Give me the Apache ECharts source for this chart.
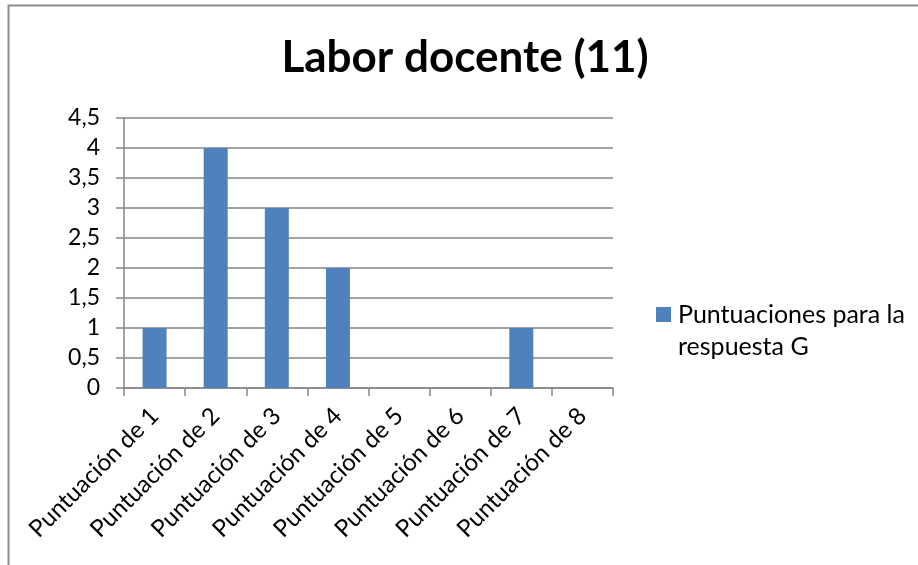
<!DOCTYPE html>
<html>
<head>
<meta charset="utf-8">
<script src="https://cdn.jsdelivr.net/npm/echarts@6/dist/echarts.min.js"></script>
<style>
html,body{margin:0;padding:0;background:#fff;}
#chart{width:918px;height:565px;}
</style>
</head>
<body>
<div id="chart"></div>
<script>
const titleText = 'Labor docente (11)';
const categories = ['Puntuación de 1','Puntuación de 2','Puntuación de 3','Puntuación de 4','Puntuación de 5','Puntuación de 6','Puntuación de 7','Puntuación de 8'];
const seriesName = 'Puntuaciones para la respuesta G';
const legendLine1 = 'Puntuaciones para la';
const legendLine2 = 'respuesta G';
const values = [1, 4, 3, 2, 0, 0, 1, 0];

const chart = echarts.init(document.getElementById('chart'));
const font = 'Lato, "Open Sans", sans-serif';
chart.setOption({
  animation: false,
  backgroundColor: '#fff',
  title: {
    text: titleText,
    left: 460, top: 31, textAlign: 'center',
    textStyle: { fontFamily: font, fontWeight: 'bold', fontSize: 44, color: '#000' }
  },
  graphic: [{
    type: 'rect', z: -1,
    shape: { x: 8.5, y: 5.5, width: 1000, height: 700 },
    style: { fill: 'none', stroke: '#8c8c8c', lineWidth: 2 }
  }, {
    type: 'text', left: 678, top: 334,
    style: { text: legendLine2, font: '25px Lato, "Open Sans", sans-serif', fill: '#000' }
  }],
  legend: {
    left: 656, top: 302, padding: 0,
    orient: 'vertical',
    itemWidth: 15, itemHeight: 15,
    icon: 'rect',
    formatter: function(){ return legendLine1; },
    textStyle: { fontFamily: font, fontSize: 25, color: '#000', padding: [0, 0, 0, 2] },
    data: [seriesName]
  },
  grid: { left: 124, right: 305, top: 118, bottom: 177, containLabel: false },
  xAxis: {
    type: 'category',
    data: categories,
    boundaryGap: true,
    axisLine: { lineStyle: { color: '#868686', width: 1.5 } },
    axisTick: { show: true, length: 8, alignWithLabel: false, interval: 0, lineStyle: { color: '#868686', width: 1.5 } },
    axisLabel: { interval: 0, rotate: 45, margin: 24, fontFamily: font, fontSize: 24, color: '#000' }
  },
  yAxis: {
    type: 'value',
    min: 0, max: 4.5, interval: 0.5,
    axisLine: { show: true, lineStyle: { color: '#868686', width: 1.5 } },
    axisTick: { show: true, length: 8, lineStyle: { color: '#868686', width: 1.5 } },
    splitLine: { lineStyle: { color: '#868686', width: 1.5 } },
    axisLabel: {
      margin: 24, fontFamily: font, fontSize: 23, color: '#000',
      formatter: function(v){ return String(v).replace('.', ','); }
    }
  },
  series: [{
    name: seriesName,
    type: 'bar',
    data: values,
    barWidth: 24,
    itemStyle: { color: '#4F81BD' }
  }]
});
</script>
</body>
</html>
